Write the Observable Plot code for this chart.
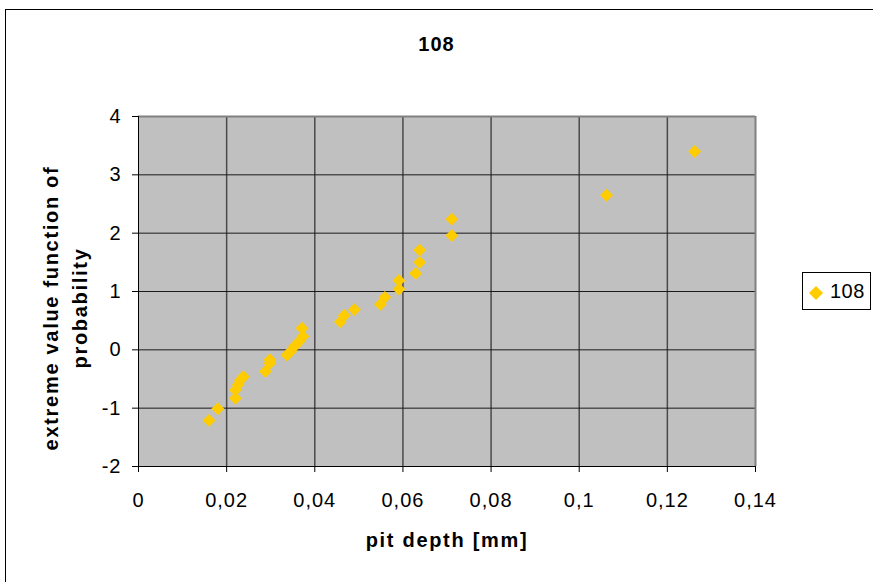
<!DOCTYPE html>
<html>
<head>
<meta charset="utf-8">
<script src="https://cdn.jsdelivr.net/npm/d3@7"></script>
<script src="https://cdn.jsdelivr.net/npm/@observablehq/plot@0.6"></script>
<style>
  html, body { margin: 0; padding: 0; background: #fff; overflow: hidden; }
  #wrap { position: relative; width: 873px; height: 582px; overflow: hidden; font-family: "Liberation Sans", Arial, sans-serif; }
  #border { position: absolute; left: 5px; top: 9px; width: 900px; height: 600px; border: 1px solid #000; pointer-events: none; }
  #title { position: absolute; left: 0; width: 873px; top: 33px; text-align: center; font-weight: bold; font-size: 20px; letter-spacing: 1px; line-height: 23px; }
  #ytitle { position: absolute; left: 66px; top: 308px; transform: translate(-50%, -50%) rotate(-90deg); white-space: nowrap; text-align: center; font-weight: bold; font-size: 20px; letter-spacing: 1.7px; line-height: 29px; }
  #legend { position: absolute; left: 802px; top: 272px; width: 69px; height: 38px; border: 1px solid #000; background: #fff; box-sizing: border-box; font-size: 20px; line-height: 23px; }
  #legend .sym { position: absolute; left: 7.5px; top: 15px; width: 10px; height: 10px; background: #ffcc00; transform: rotate(45deg); }
  #legend .lab { position: absolute; left: 27px; top: 7px; letter-spacing: 0.5px; }
  #chart svg { position: absolute; left: 0; top: 0; }
  #chart svg text { font-size: 20px; letter-spacing: 1px; fill: #000; }
  #chart svg text.bold { letter-spacing: 1.7px; }
</style>
</head>
<body>
<div id="wrap">
  <div id="chart"></div>
  <div id="border"></div>
  <div id="title">108</div>
  <div id="ytitle"></div>
  <div id="legend"><div class="sym"></div><div class="lab"></div></div>
</div>
<script>
const seriesName = "108";
const pitDepth = [0.016, 0.018, 0.022, 0.022, 0.0226, 0.0231, 0.0238, 0.0288, 0.0298, 0.0298,
                  0.0337, 0.0345, 0.0354, 0.0364, 0.0373, 0.0371, 0.0458, 0.0467, 0.049, 0.0549,
                  0.0559, 0.0591, 0.0591, 0.0629, 0.0638, 0.0638, 0.0711, 0.0711, 0.1062, 0.1262];
const extremeValue = [-1.21, -1.01, -0.83, -0.69, -0.60, -0.52, -0.46, -0.37, -0.23, -0.17,
                      -0.09, -0.03, 0.06, 0.14, 0.23, 0.37, 0.48, 0.59, 0.69, 0.78,
                      0.90, 1.04, 1.19, 1.31, 1.50, 1.71, 1.96, 2.24, 2.65, 3.40];
const xTicks = [0, 0.02, 0.04, 0.06, 0.08, 0.1, 0.12, 0.14];
const yTicks = [-2, -1, 0, 1, 2, 3, 4];
const xTitle = "pit depth [mm]";
const yTitleLines = ["extreme value function of", "probability"];

const data = pitDepth.map((x, i) => ({x, y: extremeValue[i]}));

const chart = Plot.plot({
  width: 873,
  height: 582,
  marginLeft: 138,
  marginRight: 118,
  marginTop: 116,
  marginBottom: 116,
  style: {fontFamily: "'Liberation Sans', Arial, sans-serif", fontSize: "20px", color: "#000", background: "transparent", overflow: "visible"},
  x: {domain: [0, 0.14], axis: null},
  y: {domain: [-2, 4], axis: null},
  marks: [
    Plot.frame({fill: "#c0c0c0", stroke: "none"}),
    Plot.gridX(xTicks.slice(1, -1), {stroke: "#4a4a4a", strokeOpacity: 1, strokeWidth: 1.5}),
    Plot.gridY(yTicks.slice(1, -1), {stroke: "#1a1a1a", strokeOpacity: 1, strokeWidth: 1}),
    Plot.ruleY([4], {stroke: "#808080", strokeWidth: 2}),
    Plot.ruleX([0.14], {stroke: "#808080", strokeWidth: 2}),
    Plot.ruleX([0], {stroke: "#000", strokeWidth: 1}),
    Plot.ruleY([-2], {stroke: "#000", strokeWidth: 1}),
    Plot.axisX(xTicks, {anchor: "bottom", tickSize: 6, tickPadding: 20, label: null,
      tickFormat: d => String(d).replace(".", ","), stroke: "#000", fill: "#000"}),
    Plot.axisY(yTicks, {anchor: "left", tickSize: 6, tickPadding: 11, label: null,
      tickFormat: d => String(d), stroke: "#000", fill: "#000"}),
    Plot.dot(data, {x: "x", y: "y", symbol: "diamond2", r: 5.8, fill: "#ffcc00", stroke: "none"}),
    Plot.text([xTitle], {frameAnchor: "bottom", dy: 80, text: d => d, fontWeight: "bold", fill: "#000"})
  ]
});
d3.select(chart).selectAll("g[font-weight='bold'] text, text[font-weight='bold']").classed("bold", true);
document.getElementById("chart").appendChild(chart);
document.getElementById("ytitle").innerHTML = yTitleLines.join("<br>");
document.querySelector("#legend .lab").textContent = seriesName;
document.getElementById("title").textContent = seriesName;
</script>
</body>
</html>
